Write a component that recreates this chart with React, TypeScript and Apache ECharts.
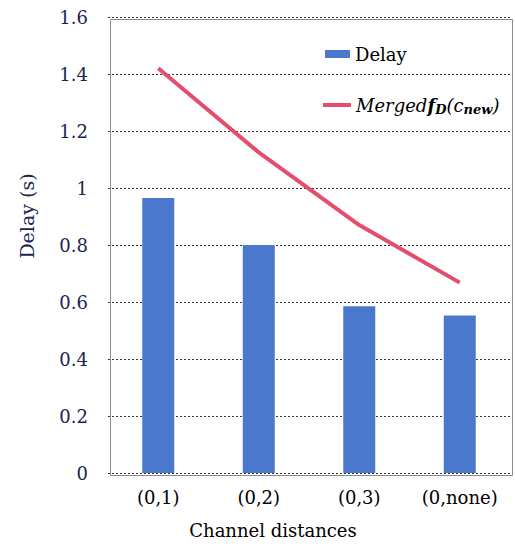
import React, { useEffect, useRef } from "react";
import * as echarts from "echarts";

const categories = ["(0,1)", "(0,2)", "(0,3)", "(0,none)"];
const delayValues = [0.965, 0.8, 0.585, 0.553];
const mergedValues = [1.42, 1.125, 0.87, 0.668];
const yTicks = [0, 0.2, 0.4, 0.6, 0.8, 1, 1.2, 1.4, 1.6];

const MERGED = "Merged";

export default function App() {
  const ref = useRef<HTMLDivElement>(null);
  useEffect(() => {
    document.body.style.margin = "0";
    const chart = echarts.init(ref.current!, null, { renderer: "svg" });
    const serif = "DejaVu Serif";
    const math = "DejaVu Serif";
    const gl = 108, gt = 17, gr = 5, gb = 71;
    chart.setOption({
      animation: false,
      backgroundColor: "#fff",
      grid: { left: gl, right: gr, top: gt, bottom: gb },
      legend: [
        {
          data: ["Delay"],
          left: 320,
          top: 40,
          itemWidth: 25,
          itemHeight: 8,
          icon: "rect",
          itemGap: 12,
          textStyle: { fontFamily: serif, fontSize: 18, color: "#000" },
        },
        {
          data: [MERGED],
          left: 318,
          top: 91,
          itemWidth: 28,
          itemHeight: 4,
          icon: "rect",
          itemGap: 6,
          formatter: () =>
            "{it|Merged}{f|f}{sub|D}{it|(}{c|c}{sub|new}{it|)}",
          textStyle: {
            fontFamily: math,
            fontSize: 18,
            color: "#000",
            rich: {
              it: { fontFamily: math, fontStyle: "italic", fontSize: 18, color: "#000" },
              f: { fontFamily: math, fontStyle: "italic", fontWeight: "bold", fontSize: 18, color: "#000" },
              c: { fontFamily: math, fontStyle: "italic", fontSize: 18, color: "#000" },
              sub: {
                fontFamily: math,
                fontStyle: "italic",
                fontWeight: "bold",
                fontSize: 13,
                color: "#000",
                padding: [9, 0, 0, 0],
              },
            },
          },
        },
      ],
      xAxis: {
        type: "category",
        data: categories,
        axisLine: { show: false },
        axisTick: { show: false },
        axisLabel: {
          fontFamily: serif,
          fontSize: 18,
          color: "#000",
          margin: 15,
        },
      },
      yAxis: {
        type: "value",
        min: 0,
        max: 1.6,
        interval: 0.2,
        axisLine: { show: false },
        axisTick: { show: false },
        axisLabel: {
          fontFamily: serif,
          fontSize: 18,
          color: "#1a2550",
          margin: 20,
          formatter: (v: number) => {
            const t = yTicks.find((x) => Math.abs(x - v) < 1e-6);
            return t === undefined ? "" : String(t);
          },
        },
        splitLine: {
          lineStyle: { color: "#333", width: 1, type: [2, 2] },
        },
      },
      graphic: [
        {
          type: "rect",
          left: gl,
          top: gt,
          z: 0,
          silent: true,
          shape: { width: 515 - gl - gr, height: 544 - gt - gb },
          style: { fill: "none", stroke: "#8a8a8a", lineWidth: 1 },
        },
        {
          type: "text",
          x: 273,
          y: 521,
          style: {
            text: "Channel distances",
            fontFamily: serif,
            fontSize: 18,
            fill: "#000",
            align: "center",
            verticalAlign: "top",
          },
        },
        {
          type: "text",
          x: 27,
          y: 216,
          rotation: Math.PI / 2,
          style: {
            text: "Delay (s)",
            fontFamily: serif,
            fontSize: 19,
            fill: "#1a2550",
            align: "center",
            verticalAlign: "middle",
          },
        },
      ],
      series: [
        {
          name: "Delay",
          type: "bar",
          data: delayValues,
          barWidth: 32,
          itemStyle: { color: "#4a78cc" },
        },
        {
          name: MERGED,
          type: "line",
          data: mergedValues,
          symbol: "none",
          lineStyle: { color: "#e44d6e", width: 4 },
          itemStyle: { color: "#e44d6e" },
        },
      ],
    });
    return () => chart.dispose();
  }, []);
  return <div ref={ref} style={{ width: 515, height: 544 }} />;
}
